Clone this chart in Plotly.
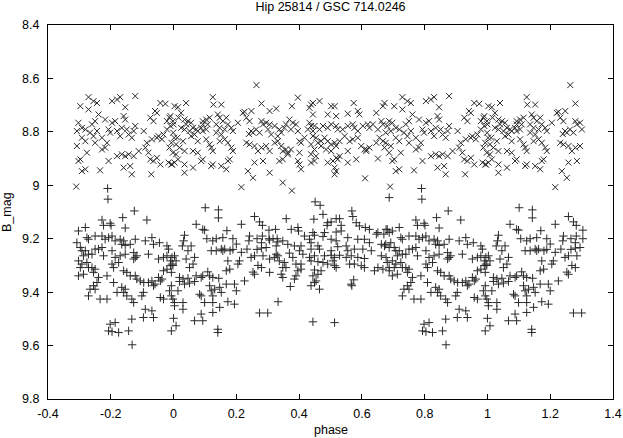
import plotly.graph_objects as go

# phase-folded photometry, values in phase 0..1
upper_phase = [
    0.264, 0.125, 0.127, 0.152, 0.040, 0.003, 0.014, 0.280,
    0.226, 0.248, 0.306, 0.327, 0.024, 0.987, 0.998, 0.000,
    0.035, 0.046, 0.056, 0.040, 0.024, 0.035, 0.093, 0.104,
    0.115, 0.093, 0.109, 0.088, 0.072, 0.077, 0.093, 0.104,
    0.062, 0.051, 0.067, 0.056, 0.141, 0.147, 0.157, 0.168,
    0.173, 0.136, 0.147, 0.163, 0.136, 0.152, 0.184, 0.189,
    0.205, 0.221, 0.232, 0.242, 0.253, 0.240, 0.247, 0.263,
    0.274, 0.280, 0.285, 0.295, 0.306, 0.301, 0.311, 0.322,
    0.002, 0.012, 0.993, 0.008, 0.987, 0.998, 0.030, 0.019,
    0.035, 0.008, 0.014, 0.003, 0.993, 0.077, 0.062, 0.104,
    0.115, 0.120, 0.125, 0.147, 0.163, 0.173, 0.184, 0.189,
    0.232, 0.242, 0.258, 0.269, 0.280, 0.295, 0.306, 0.322,
    0.077, 0.093, 0.088, 0.035, 0.062, 0.035, 0.120, 0.125,
    0.152, 0.173, 0.179, 0.168, 0.258, 0.285, 0.306, 0.237,
    0.253, 0.216,
    0.396, 0.377, 0.438, 0.444, 0.465, 0.502, 0.513, 0.574,
    0.444, 0.433, 0.491, 0.518, 0.555, 0.587, 0.592, 0.646,
    0.672, 0.667, 0.369, 0.380, 0.358, 0.390, 0.353, 0.374,
    0.396, 0.337, 0.343, 0.332, 0.433, 0.438, 0.449, 0.428,
    0.444, 0.465, 0.476, 0.491, 0.502, 0.518, 0.523, 0.539,
    0.555, 0.571, 0.576, 0.587, 0.603, 0.619, 0.635, 0.624,
    0.651, 0.662, 0.667, 0.332, 0.343, 0.358, 0.348, 0.364,
    0.374, 0.401, 0.406, 0.417, 0.444, 0.454, 0.460, 0.470,
    0.481, 0.491, 0.502, 0.513, 0.529, 0.438, 0.449, 0.470,
    0.486, 0.502, 0.518, 0.545, 0.561, 0.571, 0.587, 0.598,
    0.608, 0.614, 0.624, 0.646, 0.656, 0.667, 0.672, 0.337,
    0.348, 0.364, 0.401, 0.396, 0.401, 0.406, 0.438, 0.449,
    0.438, 0.454, 0.491, 0.508, 0.518, 0.523, 0.529, 0.555,
    0.555, 0.513, 0.518, 0.513, 0.582, 0.614, 0.651, 0.610,
    0.348, 0.377,
    0.878, 0.729, 0.745, 0.756, 0.804, 0.820, 0.830, 0.703,
    0.729, 0.761, 0.846, 0.958, 0.974, 0.947, 0.687, 0.681,
    0.697, 0.708, 0.692, 0.676, 0.719, 0.734, 0.745, 0.756,
    0.772, 0.740, 0.750, 0.782, 0.793, 0.798, 0.804, 0.814,
    0.820, 0.830, 0.835, 0.841, 0.846, 0.851, 0.857, 0.867,
    0.873, 0.878, 0.905, 0.915, 0.931, 0.947, 0.952, 0.963,
    0.968, 0.979, 0.990, 0.999, 0.990, 0.979, 0.016, 0.936,
    0.941, 0.926, 0.676, 0.692, 0.708, 0.719, 0.687, 0.703,
    0.697, 0.724, 0.719, 0.708, 0.750, 0.772, 0.782, 0.788,
    0.766, 0.793, 0.820, 0.835, 0.841, 0.846, 0.857, 0.862,
    0.867, 0.873, 0.889, 0.910, 0.920, 0.926, 0.936, 0.947,
    0.958, 0.984, 0.995, 0.929, 0.690,
]
upper_mag = [
    8.625, 8.670, 8.698, 8.698, 8.692, 8.704, 8.708, 8.694,
    8.725, 8.722, 8.722, 8.713, 8.729, 8.747, 8.760, 8.772,
    8.754, 8.760, 8.766, 8.772, 8.785, 8.791, 8.760, 8.754,
    8.747, 8.772, 8.772, 8.785, 8.791, 8.797, 8.797, 8.791,
    8.785, 8.797, 8.810, 8.816, 8.735, 8.747, 8.760, 8.747,
    8.772, 8.772, 8.785, 8.791, 8.803, 8.810, 8.785, 8.797,
    8.766, 8.729, 8.747, 8.760, 8.803, 8.808, 8.797, 8.791,
    8.803, 8.760, 8.772, 8.766, 8.772, 8.791, 8.810, 8.778,
    8.822, 8.822, 8.841, 8.847, 8.859, 8.878, 8.835, 8.859,
    8.872, 8.884, 8.903, 8.915, 8.922, 8.835, 8.872, 8.828,
    8.847, 8.859, 8.872, 8.835, 8.828, 8.841, 8.859, 8.872,
    8.841, 8.847, 8.853, 8.872, 8.859, 8.853, 8.872, 8.841,
    8.878, 8.903, 8.909, 8.922, 8.934, 8.953, 8.928, 8.922,
    8.928, 8.909, 8.903, 8.940, 8.915, 8.909, 8.953, 8.947,
    8.972, 9.007,
    8.672, 8.704, 8.698, 8.692, 8.685, 8.704, 8.704, 8.692,
    8.735, 8.710, 8.735, 8.741, 8.732, 8.722, 8.735, 8.729,
    8.692, 8.704, 8.754, 8.766, 8.772, 8.772, 8.785, 8.791,
    8.797, 8.791, 8.803, 8.816, 8.766, 8.778, 8.778, 8.791,
    8.797, 8.791, 8.778, 8.785, 8.772, 8.778, 8.791, 8.791,
    8.778, 8.772, 8.785, 8.797, 8.778, 8.772, 8.772, 8.785,
    8.791, 8.760, 8.772, 8.835, 8.853, 8.866, 8.872, 8.878,
    8.866, 8.835, 8.841, 8.822, 8.816, 8.822, 8.841, 8.835,
    8.822, 8.835, 8.847, 8.841, 8.835, 8.847, 8.866, 8.853,
    8.866, 8.872, 8.853, 8.816, 8.835, 8.828, 8.822, 8.853,
    8.866, 8.872, 8.859, 8.841, 8.822, 8.835, 8.859, 8.909,
    8.903, 8.884, 8.878, 8.909, 8.922, 8.940, 8.884, 8.909,
    8.915, 8.891, 8.915, 8.909, 8.897, 8.903, 8.891, 8.872,
    8.915, 8.934, 8.947, 8.959, 8.903, 8.866, 8.900, 8.974,
    8.990, 9.020,
    8.666, 8.670, 8.685, 8.692, 8.685, 8.679, 8.670, 8.704,
    8.716, 8.735, 8.708, 8.692, 8.695, 8.729, 8.760, 8.778,
    8.766, 8.785, 8.797, 8.803, 8.791, 8.803, 8.816, 8.797,
    8.822, 8.772, 8.760, 8.754, 8.791, 8.803, 8.766, 8.760,
    8.797, 8.816, 8.785, 8.741, 8.754, 8.791, 8.810, 8.822,
    8.797, 8.778, 8.797, 8.841, 8.828, 8.822, 8.816, 8.828,
    8.810, 8.791, 8.778, 8.803, 8.741, 8.760, 8.747, 8.760,
    8.722, 8.747, 8.841, 8.853, 8.822, 8.835, 8.878, 8.903,
    8.909, 8.878, 8.940, 8.947, 8.841, 8.866, 8.859, 8.841,
    8.944, 8.909, 8.891, 8.884, 8.934, 8.891, 8.884, 8.928,
    8.959, 8.891, 8.872, 8.859, 8.878, 8.903, 8.909, 8.897,
    8.922, 8.915, 8.922, 8.959, 9.005,
]

lower_phase = [
    0.101, 0.143, 0.143, 0.072, 0.093, 0.099, 0.170, 0.216,
    0.258, 0.274, 0.283, 0.304, 0.325, 0.035, 0.032, 0.028,
    0.056, 0.106, 0.125, 0.136, 0.157, 0.189, 0.200, 0.242,
    0.240, 0.266, 0.283, 0.280, 0.304, 0.317, 0.330, 0.327,
    0.003, 0.008, 0.998, 0.046, 0.067, 0.040, 0.062, 0.051,
    0.120, 0.136, 0.152, 0.163, 0.157, 0.180, 0.189, 0.173,
    0.210, 0.205, 0.179, 0.168, 0.216, 0.234, 0.247, 0.258,
    0.266, 0.280, 0.295, 0.306, 0.322, 0.327, 0.285, 0.306,
    0.269, 0.280, 0.253, 0.258, 0.306, 0.226, 0.993, 0.019,
    0.030, 0.019, 0.046, 0.035, 0.051, 0.067, 0.072, 0.088,
    0.093, 0.109, 0.115, 0.125, 0.144, 0.115, 0.147, 0.131,
    0.120, 0.168, 0.194, 0.200, 0.152, 0.993, 0.987, 0.014,
    0.083, 0.088, 0.125, 0.125, 0.993, 0.998, 0.003, 0.003,
    0.030, 0.030, 0.099, 0.173, 0.194, 0.147, 0.274, 0.300,
    0.333, 0.088, 0.067, 0.093, 0.125, 0.000, 0.008, 0.993,
    0.141, 0.141,
    0.451, 0.467, 0.476, 0.359, 0.447, 0.568, 0.571, 0.491,
    0.502, 0.489, 0.518, 0.529, 0.534, 0.582, 0.592, 0.611,
    0.624, 0.651, 0.670, 0.677, 0.375, 0.396, 0.398, 0.417,
    0.444, 0.449, 0.481, 0.476, 0.518, 0.534, 0.502, 0.518,
    0.555, 0.587, 0.608, 0.624, 0.646, 0.662, 0.672, 0.332,
    0.348, 0.364, 0.385, 0.406, 0.401, 0.433, 0.438, 0.460,
    0.438, 0.465, 0.502, 0.523, 0.550, 0.555, 0.576, 0.603,
    0.630, 0.369, 0.380, 0.412, 0.433, 0.449, 0.481, 0.502,
    0.513, 0.529, 0.550, 0.566, 0.587, 0.608, 0.662, 0.677,
    0.332, 0.337, 0.353, 0.348, 0.390, 0.406, 0.438, 0.460,
    0.476, 0.491, 0.508, 0.513, 0.518, 0.561, 0.576, 0.598,
    0.608, 0.640, 0.651, 0.667, 0.358, 0.396, 0.406, 0.449,
    0.470, 0.343, 0.348, 0.390, 0.385, 0.444, 0.460, 0.454,
    0.449, 0.438, 0.465, 0.372, 0.566, 0.574, 0.568, 0.444,
    0.513,
    0.687, 0.791, 0.790, 0.875, 0.838, 0.915, 0.772, 0.777,
    0.798, 0.801, 0.719, 0.846, 0.681, 0.697, 0.687, 0.724,
    0.729, 0.750, 0.772, 0.782, 0.793, 0.804, 0.814, 0.830,
    0.841, 0.846, 0.835, 0.862, 0.878, 0.910, 0.931, 0.936,
    0.955, 0.979, 0.984, 0.676, 0.692, 0.703, 0.687, 0.708,
    0.719, 0.713, 0.729, 0.740, 0.750, 0.761, 0.772, 0.777,
    0.804, 0.814, 0.830, 0.846, 0.873, 0.878, 0.883, 0.873,
    0.920, 0.952, 0.968, 0.979, 0.995, 0.990, 0.681, 0.697,
    0.687, 0.703, 0.708, 0.724, 0.729, 0.740, 0.750, 0.687,
    0.697, 0.713, 0.745, 0.804, 0.809, 0.825, 0.841, 0.851,
    0.862, 0.878, 0.883, 0.894, 0.905, 0.920, 0.931, 0.936,
    0.941, 0.952, 0.958, 0.963, 0.968, 0.979, 0.990, 0.995,
    0.788, 0.761, 0.756, 0.745, 0.750, 0.734, 0.729, 0.766,
    0.788, 0.809, 0.820, 0.835, 0.841, 0.846, 0.851, 0.867,
    0.873, 0.899, 0.904, 0.958, 0.968, 0.910, 0.931, 0.936,
    0.904, 0.867, 0.798, 0.814, 0.793, 0.804, 0.825, 0.857,
    0.868,
]
lower_mag = [
    9.084, 9.092, 9.122, 9.146, 9.165, 9.168, 9.170, 9.146,
    9.117, 9.137, 9.150, 9.168, 9.165, 9.187, 9.208, 9.227,
    9.227, 9.200, 9.208, 9.200, 9.196, 9.200, 9.220, 9.190,
    9.208, 9.200, 9.190, 9.215, 9.200, 9.200, 9.200, 9.227,
    9.264, 9.283, 9.300, 9.245, 9.270, 9.276, 9.295, 9.308,
    9.245, 9.245, 9.239, 9.239, 9.245, 9.245, 9.240, 9.283,
    9.283, 9.295, 9.314, 9.320, 9.251, 9.239, 9.270, 9.264,
    9.240, 9.235, 9.233, 9.205, 9.270, 9.258, 9.264, 9.276,
    9.300, 9.308, 9.325, 9.333, 9.326, 9.358, 9.326, 9.345,
    9.351, 9.360, 9.348, 9.370, 9.366, 9.360, 9.339, 9.345,
    9.339, 9.324, 9.339, 9.345, 9.348, 9.376, 9.382, 9.389,
    9.395, 9.370, 9.370, 9.395, 9.401, 9.376, 9.395, 9.395,
    9.408, 9.414, 9.414, 9.439, 9.414, 9.426, 9.439, 9.451,
    9.439, 9.464, 9.439, 9.436, 9.445, 9.457, 9.478, 9.478,
    9.436, 9.482, 9.507, 9.507, 9.476, 9.498, 9.526, 9.545,
    9.539, 9.551,
    9.062, 9.075, 9.109, 9.125, 9.127, 9.096, 9.117, 9.140,
    9.137, 9.150, 9.125, 9.125, 9.150, 9.140, 9.152, 9.158,
    9.165, 9.177, 9.183, 9.165, 9.165, 9.158, 9.171, 9.190,
    9.177, 9.187, 9.177, 9.192, 9.175, 9.171, 9.202, 9.208,
    9.196, 9.202, 9.202, 9.215, 9.183, 9.221, 9.227, 9.212,
    9.208, 9.221, 9.227, 9.227, 9.245, 9.202, 9.215, 9.227,
    9.239, 9.239, 9.245, 9.230, 9.227, 9.245, 9.239, 9.239,
    9.245, 9.254, 9.270, 9.258, 9.270, 9.264, 9.264, 9.262,
    9.270, 9.262, 9.270, 9.264, 9.270, 9.274, 9.264, 9.270,
    9.264, 9.283, 9.289, 9.308, 9.295, 9.295, 9.283, 9.286,
    9.289, 9.295, 9.283, 9.301, 9.308, 9.295, 9.295, 9.301,
    9.308, 9.320, 9.308, 9.314, 9.308, 9.320, 9.314, 9.317,
    9.320, 9.333, 9.345, 9.339, 9.351, 9.339, 9.333, 9.358,
    9.364, 9.376, 9.389, 9.379, 9.370, 9.354, 9.376, 9.511,
    9.514,
    9.046, 9.052, 9.012, 9.096, 9.121, 9.130, 9.130, 9.150,
    9.142, 9.150, 9.158, 9.160, 9.165, 9.171, 9.177, 9.196,
    9.202, 9.190, 9.190, 9.202, 9.196, 9.190, 9.208, 9.202,
    9.208, 9.225, 9.221, 9.221, 9.202, 9.208, 9.196, 9.221,
    9.215, 9.227, 9.239, 9.221, 9.215, 9.233, 9.233, 9.245,
    9.245, 9.264, 9.258, 9.258, 9.239, 9.239, 9.233, 9.264,
    9.245, 9.270, 9.264, 9.258, 9.252, 9.270, 9.264, 9.276,
    9.258, 9.276, 9.270, 9.264, 9.270, 9.283, 9.289, 9.283,
    9.308, 9.308, 9.295, 9.289, 9.308, 9.308, 9.314, 9.320,
    9.339, 9.333, 9.326, 9.295, 9.308, 9.289, 9.320, 9.326,
    9.339, 9.339, 9.351, 9.358, 9.364, 9.364, 9.358, 9.376,
    9.370, 9.345, 9.358, 9.351, 9.320, 9.314, 9.301, 9.295,
    9.339, 9.345, 9.364, 9.376, 9.389, 9.389, 9.414, 9.426,
    9.426, 9.364, 9.401, 9.382, 9.401, 9.389, 9.414, 9.426,
    9.439, 9.414, 9.401, 9.420, 9.426, 9.464, 9.470, 9.495,
    9.495, 9.501, 9.520, 9.514, 9.545, 9.548, 9.551, 9.545,
    9.597,
]

x_ticks = [-0.4, -0.2, 0, 0.2, 0.4, 0.6, 0.8, 1, 1.2, 1.4]
x_labels = ["-0.4", "-0.2", "0", "0.2", "0.4", "0.6", "0.8", "1", "1.2", "1.4"]
y_ticks = [8.4, 8.6, 8.8, 9, 9.2, 9.4, 9.6, 9.8]
y_labels = ["8.4", "8.6", "8.8", "9", "9.2", "9.4", "9.6", "9.8"]

assert len(upper_phase) == len(upper_mag)
assert len(lower_phase) == len(lower_mag)


def fold(phase, mag):
    """Repeat the light curve so it runs from phase -0.3 to 1.3"""
    xs, ys = [], []
    for p, m in zip(phase, mag):
        xs.append(p)
        ys.append(m)
        if p <= 0.305:
            xs.append(p + 1)
            ys.append(m)
        if p >= 0.69:
            xs.append(p - 1)
            ys.append(m)
    return xs, ys


FONT = "Liberation Sans, Arial, sans-serif"
INK = "#2a2a2a"

fig = go.Figure()
ux, uy = fold(upper_phase, upper_mag)
lx, ly = fold(lower_phase, lower_mag)
fig.add_trace(go.Scatter(
    x=ux, y=uy, mode="markers", showlegend=False,
    marker=dict(symbol="x-thin", size=6, line=dict(color=INK, width=1)),
))
fig.add_trace(go.Scatter(
    x=lx, y=ly, mode="markers", showlegend=False,
    marker=dict(symbol="cross-thin", size=6, line=dict(color=INK, width=1)),
))

axis_style = dict(
    showgrid=False, zeroline=False, showline=True, linecolor="black",
    linewidth=1, mirror="ticks", ticks="inside", ticklen=5,
    tickcolor="black", tickwidth=1, automargin=False,
    tickfont=dict(family=FONT, size=12.5, color="black"),
)

fig.update_layout(
    width=623, height=438, autosize=False,
    paper_bgcolor="white", plot_bgcolor="white",
    margin=dict(l=48, r=10, t=25, b=39, autoexpand=False),
    font=dict(family=FONT, size=12.5, color="black"),
    title=dict(text="Hip 25814 / GSC 714.0246", x=0.5, xref="paper",
               y=1 - 7 / 438, yref="container", yanchor="middle",
               automargin=False,
               font=dict(family=FONT, size=12.5, color="black")),
    xaxis=dict(range=[-0.4, 1.4], tickvals=x_ticks, ticktext=x_labels,
               ticklabelstandoff=3, **axis_style),
    yaxis=dict(range=[9.8, 8.4], tickvals=y_ticks, ticktext=y_labels,
               ticklabelstandoff=5, **axis_style),
    annotations=[
        dict(text="phase", x=0.5, y=0, xref="paper", yref="paper",
             yshift=-31, xanchor="center", yanchor="middle",
             showarrow=False, font=dict(family=FONT, size=12.5)),
        dict(text="B_mag", x=0, y=0.5, xref="paper", yref="paper",
             xshift=-41, xanchor="center", yanchor="middle", textangle=-90,
             showarrow=False, font=dict(family=FONT, size=12.5)),
    ],
)

# the page body has a default 8px margin, drop it so the figure fills the window
fig.write_html("out.html", config={"displayModeBar": False},
               post_script="document.body.style.margin = '0';")
